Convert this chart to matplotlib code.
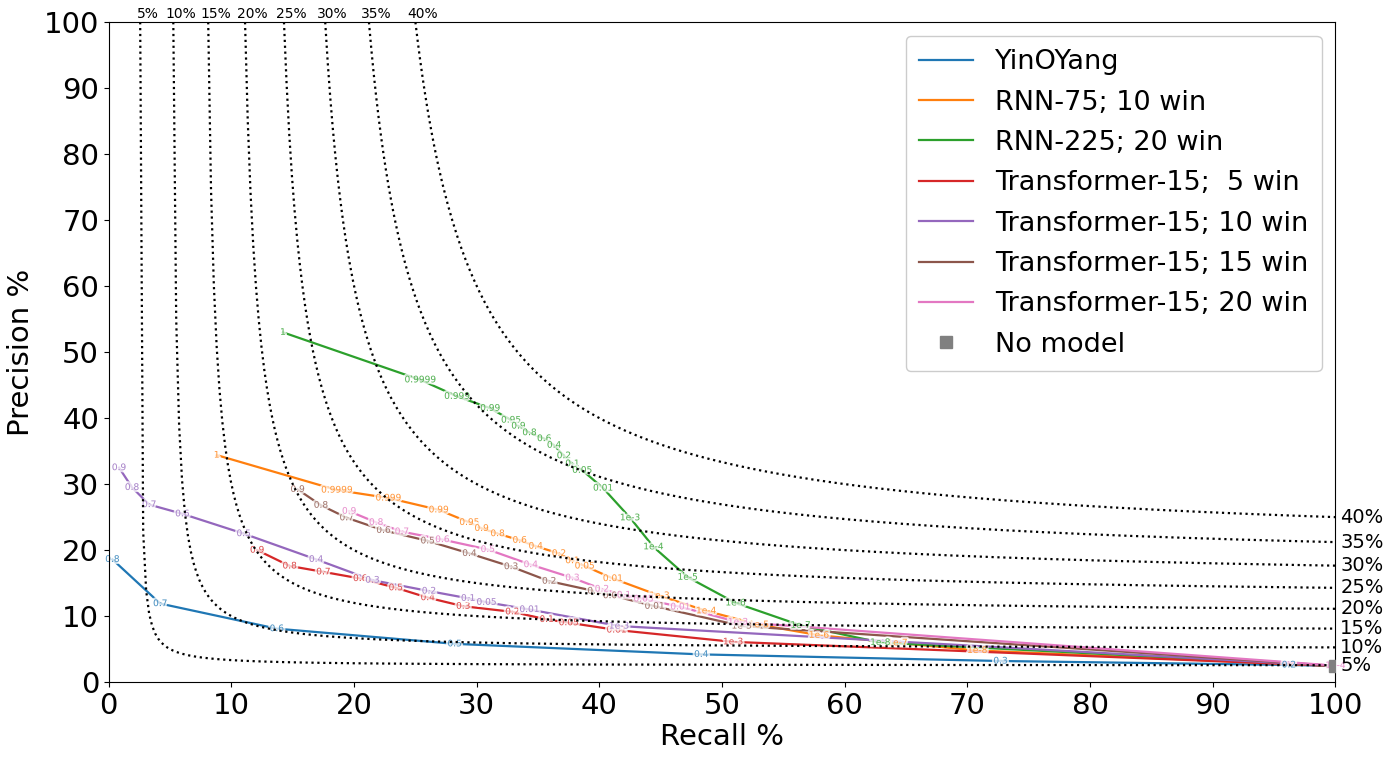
import numpy as np
import matplotlib
matplotlib.use("Agg")
import matplotlib.pyplot as plt
import matplotlib.patheffects as pe

# iso-F1 levels (%)
f_levels = [5, 10, 15, 20, 25, 30, 35, 40]
base_rate = 2.45  # precision of "no model"

names = ["YinOYang", "RNN-75; 10 win", "RNN-225; 20 win",
         "Transformer-15;  5 win", "Transformer-15; 10 win",
         "Transformer-15; 15 win", "Transformer-15; 20 win"]

yin_rec = [0.3, 4.2, 13.7, 28.2, 48.3, 72.7, 96.2, 100]
yin_prec = [18.6, 11.9, 8.1, 5.8, 4.2, 3.2, 2.6, 2.45]
yin_lab = ["0.8", "0.7", "0.6", "0.5", "0.4", "0.3", "0.2", ""]

rnn75_rec = [8.8, 18.6, 22.8, 26.9, 29.4, 30.4, 31.7, 33.5, 34.8, 36.7, 37.8,
             38.8, 41.1, 44.9, 48.7, 53.0, 57.9, 64.3, 70.8, 100]
rnn75_prec = [34.4, 29.1, 27.9, 26.1, 24.2, 23.3, 22.5, 21.5, 20.6, 19.5, 18.4,
              17.6, 15.7, 13.1, 10.8, 8.7, 7.1, 5.95, 4.8, 2.45]
rnn75_lab = ["1", "0.9999", "0.999", "0.99", "0.95", "0.9", "0.8", "0.6", "0.4",
             "0.2", "0.1", "0.05", "0.01", "1e-3", "1e-4", "1e-5", "1e-6",
             "1e-7", "1e-8", ""]

rnn225_rec = [14.2, 25.4, 28.4, 31.1, 32.8, 33.4, 34.3, 35.5, 36.3, 37.1, 37.8,
              38.6, 40.3, 42.5, 44.4, 47.2, 51.1, 56.4, 62.9, 100]
rnn225_prec = [53.0, 45.8, 43.3, 41.5, 39.7, 38.8, 37.8, 36.9, 35.9, 34.3, 33.1,
               32.1, 29.4, 24.9, 20.5, 15.9, 12.0, 8.6, 6.0, 2.45]
rnn225_lab = ["1", "0.9999", "0.999", "0.99", "0.95", "0.9", "0.8", "0.6", "0.4",
              "0.2", "0.1", "0.05", "0.01", "1e-3", "1e-4", "1e-5", "1e-6",
              "1e-7", "1e-8", ""]

tr5_rec = [12.1, 14.75, 17.5, 20.5, 23.4, 26.0, 28.9, 32.9, 35.7, 37.5, 41.4,
           50.9, 100]
tr5_prec = [20.0, 17.6, 16.7, 15.7, 14.3, 12.8, 11.5, 10.65, 9.5, 9.0, 7.9,
            6.1, 2.45]
tr5_lab = ["0.9", "0.8", "0.7", "0.6", "0.5", "0.4", "0.3", "0.2", "0.1",
           "0.05", "0.01", "1e-3", ""]

tr10_rec = [0.84, 1.9, 3.3, 6.0, 11.0, 16.9, 21.5, 26.1, 29.3, 30.8, 34.3,
            41.6, 100]
tr10_prec = [32.5, 29.5, 26.9, 25.5, 22.5, 18.6, 15.45, 13.8, 12.7, 12.1, 11.0,
             8.5, 2.45]
tr10_lab = ["0.9", "0.8", "0.7", "0.6", "0.5", "0.4", "0.3", "0.2", "0.1",
            "0.05", "0.01", "1e-3", ""]

tr15_rec = [15.4, 17.3, 19.4, 22.4, 26.0, 29.4, 32.8, 35.9, 39.6, 41.1, 44.5,
            51.6, 100]
tr15_prec = [29.2, 26.8, 24.9, 23.0, 21.4, 19.5, 17.5, 15.3, 13.8, 13.1, 11.5,
             8.5, 2.45]
tr15_lab = ["0.9", "0.8", "0.7", "0.6", "0.5", "0.4", "0.3", "0.2", "0.1",
            "0.05", "0.01", "1e-3", ""]

tr20_rec = [19.6, 21.8, 23.9, 27.2, 30.9, 34.4, 37.8, 40.2, 42.0, 43.6, 46.6,
            51.3, 100]
tr20_prec = [25.9, 24.2, 22.8, 21.6, 20.1, 17.8, 15.8, 14.1, 13.2, 12.6, 11.4,
             9.1, 2.5]
tr20_lab = ["0.9", "0.8", "0.7", "0.6", "0.5", "0.4", "0.3", "0.2", "0.1",
            "0.05", "0.01", "1e-3", "1e-4"]

series = [(yin_rec, yin_prec, yin_lab),
          (rnn75_rec, rnn75_prec, rnn75_lab),
          (rnn225_rec, rnn225_prec, rnn225_lab),
          (tr5_rec, tr5_prec, tr5_lab),
          (tr10_rec, tr10_prec, tr10_lab),
          (tr15_rec, tr15_prec, tr15_lab),
          (tr20_rec, tr20_prec, tr20_lab)]

fig = plt.figure(figsize=(13.94, 7.63), dpi=100)
ax = fig.add_axes([0.078, 0.106, 0.880, 0.865])

# iso-F1 curves
for f in f_levels:
    r0 = 100 * f / (200 - f)
    r = np.linspace(r0, 100, 400)
    p = f * r / (2 * r - f)
    ax.plot(r, p, ":", color="black", lw=1.6, zorder=3)
    ax.text(r0 + 0.6, 100.2, f"{f}%", ha="center", va="bottom", fontsize=10,
            clip_on=False)
    ax.text(100.4, f * 100 / (200 - f), f"{f}%", ha="left", va="center",
            fontsize=14, clip_on=False)

for i, (rec, prec, lab) in enumerate(series):
    col = f"C{i}"
    ax.plot(rec, prec, color=col, lw=1.6, label=names[i], zorder=2)
    for x, y, t in zip(rec, prec, lab):
        if t:
            ax.text(x, y, t, color=col, alpha=0.75, fontsize=6.5, ha="center",
                    va="center", zorder=2.5,
                    path_effects=[pe.withStroke(linewidth=3, foreground="white")])

ax.plot([100], [base_rate], "s", color="gray", ms=9, ls="none",
        label="No model", zorder=4)

ax.set_xlim(0, 100)
ax.set_ylim(0, 100)
ax.set_xticks(range(0, 101, 10))
ax.set_yticks(range(0, 101, 10))
ax.tick_params(labelsize=21)
ax.set_xlabel("Recall %", fontsize=21, labelpad=2)
ax.set_ylabel("Precision %", fontsize=21, labelpad=6)
ax.legend(loc="upper right", fontsize=19.5, framealpha=1, borderpad=0.5,
          borderaxespad=0.5, labelspacing=0.53)

fig.savefig("out.png", dpi=100)
